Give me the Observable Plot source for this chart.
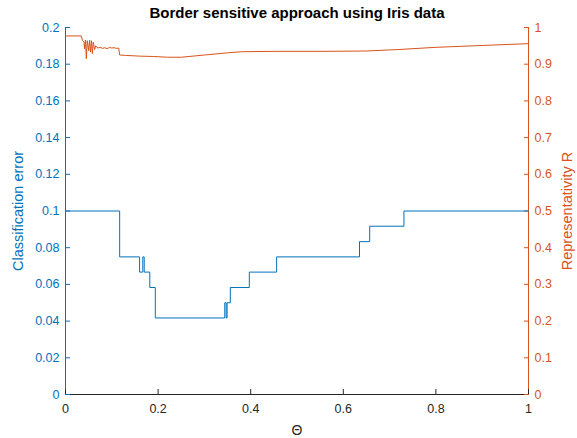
<!DOCTYPE html>
<html>
<head>
<meta charset="utf-8">
<script src="https://cdn.jsdelivr.net/npm/d3@7"></script>
<script src="https://cdn.jsdelivr.net/npm/@observablehq/plot@0.6"></script>
<style>
  html, body { margin: 0; padding: 0; background: #fff; }
</style>
</head>
<body>
<div id="chart"></div>
<script>
// ---- data ----
const title = "Border sensitive approach using Iris data";
const xLabel = "Θ";
const yLeftLabel = "Classification error";
const yRightLabel = "Representativity R";

// classification error (step function), breakpoints in Θ
const thetaErr = [0, 0.117, 0.160, 0.167, 0.170, 0.182, 0.194, 0.344, 0.347, 0.349, 0.356, 0.397, 0.456, 0.635, 0.657, 0.731, 1.0];
const err      = [0.1, 0.075, 0.0667, 0.075, 0.0667, 0.0583, 0.0417, 0.05, 0.0417, 0.05, 0.0583, 0.0667, 0.075, 0.0833, 0.0917, 0.1, 0.1];

// representativity R
const thetaR = [0, 0.034, 0.037, 0.040, 0.041, 0.043, 0.045, 0.047, 0.050, 0.052, 0.054, 0.056, 0.058, 0.060, 0.063, 0.065, 0.070, 0.075, 0.080, 0.085, 0.090, 0.095, 0.100, 0.105, 0.110, 0.115, 0.117, 0.13, 0.16, 0.19, 0.22, 0.25, 0.30, 0.35, 0.38, 0.45, 0.55, 0.65, 0.72, 0.80, 0.90, 1.0];
const rVals  = [0.977, 0.977, 0.964, 0.96, 0.942, 0.966, 0.915, 0.964, 0.937, 0.966, 0.933, 0.964, 0.929, 0.96, 0.94, 0.95, 0.944, 0.946, 0.943, 0.945, 0.942, 0.946, 0.944, 0.945, 0.943, 0.944, 0.925, 0.924, 0.922, 0.921, 0.919, 0.919, 0.925, 0.931, 0.934, 0.935, 0.935, 0.936, 0.94, 0.946, 0.951, 0.956];

const xTicks = [0, 0.2, 0.4, 0.6, 0.8, 1];
const yLeftTicks = [0, 0.02, 0.04, 0.06, 0.08, 0.1, 0.12, 0.14, 0.16, 0.18, 0.2];
const yRightTicks = [0, 0.1, 0.2, 0.3, 0.4, 0.5, 0.6, 0.7, 0.8, 0.9, 1];

// ---- build ----
const blue = "#0072BD";
const orange = "#D95319";
const gray = "#262626";
const rightScale = 0.2; // right axis [0,1] mapped onto left axis [0,0.2]

const errData = thetaErr.map((t, i) => ({t, v: err[i]}));
const rData = thetaR.map((t, i) => ({t, v: rVals[i]}));
const fmt = d => String(+d.toFixed(2));

const chart = Plot.plot({
  width: 577,
  height: 438,
  marginLeft: 65,
  marginRight: 49,
  marginTop: 27,
  marginBottom: 44,
  style: {fontFamily: "'Liberation Sans', Arial, sans-serif", background: "#fff"},
  x: {domain: [0, 1]},
  y: {domain: [0, 0.2]},
  marks: [
    // axis lines
    Plot.ruleY([0], {stroke: gray, strokeWidth: 1}),
    Plot.ruleX([0], {y1: 0, y2: 0.2, stroke: blue, strokeWidth: 1}),
    Plot.ruleX([1], {y1: 0, y2: 0.2, stroke: orange, strokeWidth: 1}),
    // x axis (inward ticks)
    Plot.axisX({ticks: xTicks, tickSize: 5, dy: -5, text: null, label: null, stroke: gray}),
    Plot.axisX({ticks: xTicks, tickSize: 0, tickPadding: 10, tickFormat: fmt, label: null, fill: gray, fontSize: 12.5}),
    // left y axis
    Plot.axisY({anchor: "left", ticks: yLeftTicks, tickSize: 5, dx: 5, text: null, label: null, stroke: blue}),
    Plot.axisY({anchor: "left", ticks: yLeftTicks, tickSize: 0, tickPadding: 6, tickFormat: fmt, label: null, fill: blue, fontSize: 12.5}),
    // right y axis
    Plot.axisY({anchor: "right", ticks: yRightTicks.map(d => d * rightScale), tickSize: 5, dx: -5, text: null, label: null, stroke: orange}),
    Plot.axisY({anchor: "right", ticks: yRightTicks.map(d => d * rightScale), tickSize: 0, tickPadding: 6, tickFormat: d => fmt(d / rightScale), label: null, fill: orange, fontSize: 12.5}),
    // data
    Plot.line(errData, {x: "t", y: "v", curve: "step-after", stroke: blue, strokeWidth: 1}),
    Plot.line(rData, {x: "t", y: d => d.v * rightScale, stroke: orange, strokeWidth: 1}),
    // labels
    Plot.text([title], {text: d => d, frameAnchor: "top", dy: -14, fontWeight: "bold", fontSize: 15, fill: "#000", lineAnchor: "middle", textAnchor: "middle"}),
    Plot.text([xLabel], {text: d => d, frameAnchor: "bottom", dy: 36, fontSize: 14, fill: gray, lineAnchor: "middle", textAnchor: "middle"}),
    Plot.text([yLeftLabel], {text: d => d, frameAnchor: "left", dx: -47, rotate: -90, fontSize: 14.5, fill: blue, lineAnchor: "middle", textAnchor: "middle"}),
    Plot.text([yRightLabel], {text: d => d, frameAnchor: "right", dx: 39, rotate: -90, fontSize: 14.5, fill: orange, lineAnchor: "middle", textAnchor: "middle"})
  ]
});
document.getElementById("chart").appendChild(chart);
</script>
</body>
</html>
